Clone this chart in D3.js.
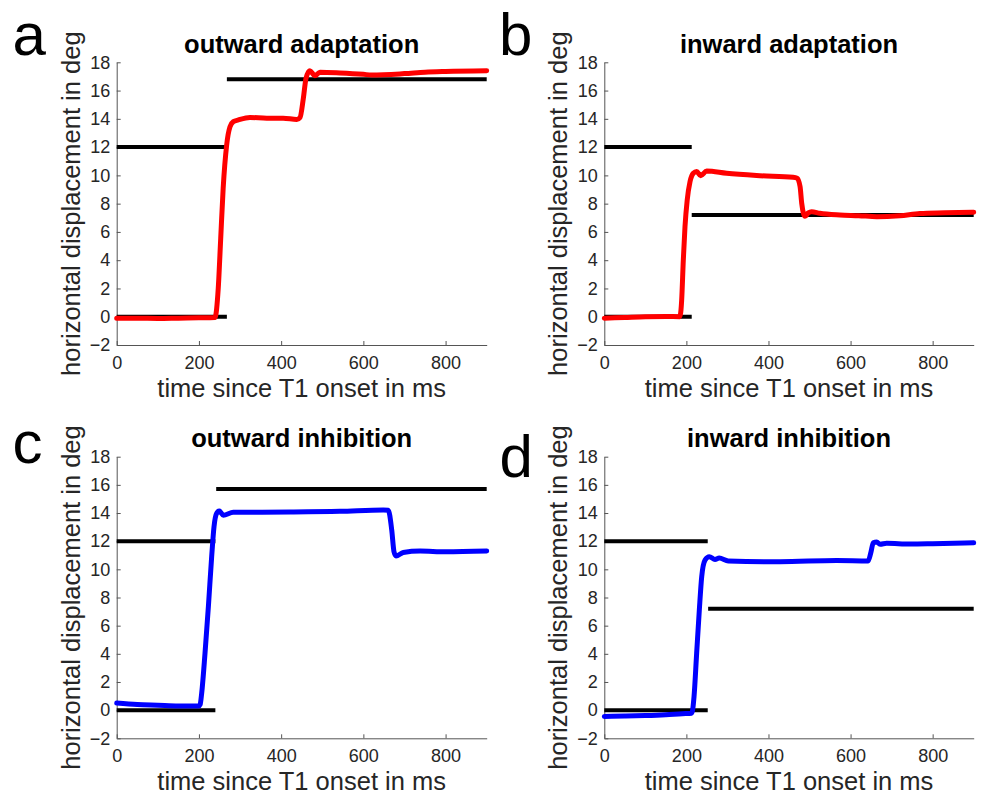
<!DOCTYPE html>
<html>
<head>
<meta charset="utf-8">
<script src="https://cdn.jsdelivr.net/npm/d3@7"></script>
<style>
  html, body { margin: 0; padding: 0; background: #fff; }
  svg { display: block; font-family: "Liberation Sans", Arial, Helvetica, sans-serif; }
</style>
</head>
<body>
<svg id="chart" width="981" height="797"></svg>
<script>
// ---------------- data ----------------
const xTicks = [0, 200, 400, 600, 800];
const yTicks = [-2, 0, 2, 4, 6, 8, 10, 12, 14, 16, 18];
const xLabel = "time since T1 onset in ms";
const yLabel = "horizontal displacement in deg";

const panelLetters = ["a", "b", "c", "d"];
const panelTitles = ["outward adaptation", "inward adaptation", "outward inhibition", "inward inhibition"];
const panelColors = ["#ff0000", "#ff0000", "#0000ff", "#0000ff"];

// panel a: outward adaptation
const timeA = [0, 50, 100, 150, 200, 239, 247, 253, 259, 267.5, 275.6, 283.7, 296, 324, 365, 405, 438, 446, 454, 460.5, 470, 482, 494.5, 543, 600, 620, 700, 750, 800, 900];
const dispA = [-0.1, -0.1, -0.12, -0.1, -0.08, -0.05, 2.0, 5.55, 9.09, 12.15, 13.44, 13.8, 13.92, 14.1, 14.05, 14.05, 13.95, 14.1, 15.45, 16.87, 17.4, 17.05, 17.3, 17.25, 17.15, 17.1, 17.2, 17.3, 17.35, 17.4];
// target segments [from ms, to ms, displacement]
const targetsA = [[0, 268, 0], [0, 268, 12], [268, 900, 16.8]];

// panel b: inward adaptation
const timeB = [0, 50, 100, 150, 184, 188.5, 192.5, 196.6, 202, 208.8, 216.9, 225, 234.8, 249.5, 298, 379, 460, 470, 477, 481, 489, 497, 505, 525, 574, 620, 664, 720, 769, 830, 900];
const dispB = [-0.1, -0.05, 0, 0.02, 0.0, 1.18, 4.01, 6.37, 8.26, 9.55, 10.15, 10.28, 9.98, 10.31, 10.15, 9.98, 9.86, 9.8, 9.2, 8.02, 7.1, 7.35, 7.43, 7.32, 7.2, 7.15, 7.08, 7.15, 7.3, 7.35, 7.4];
const targetsB = [[0, 213, 0], [0, 213, 12], [213, 900, 7.2]];

// panel c: outward inhibition
const timeC = [0, 50, 100, 150, 200, 203, 206.7, 214.8, 223, 231, 236.7, 243.2, 249.6, 259.3, 283.6, 421.6, 543, 648.5, 660.6, 669, 674.5, 679.4, 697, 738, 800, 900];
const dispC = [0.5, 0.4, 0.35, 0.3, 0.3, 0.4, 1.2, 4.04, 7.35, 10.9, 13.03, 13.98, 14.14, 13.85, 14.05, 14.07, 14.12, 14.22, 14.2, 12.79, 11.25, 10.95, 11.2, 11.3, 11.25, 11.3];
const targetsC = [[0, 240, 0], [0, 240, 12], [242, 900, 15.7]];

// panel d: inward inhibition
const timeD = [0, 50, 100, 150, 190, 213, 218.6, 225, 231.5, 237.3, 245.4, 255.8, 269.7, 280, 302, 428, 566, 643, 649, 655.5, 663.7, 671.8, 688, 745, 800, 900];
const dispD = [-0.45, -0.42, -0.38, -0.32, -0.25, -0.22, 0.95, 4.04, 7.11, 9.48, 10.66, 10.9, 10.7, 10.8, 10.6, 10.54, 10.63, 10.6, 11.14, 11.89, 11.95, 11.78, 11.85, 11.8, 11.82, 11.88];
const targetsD = [[0, 252, 0], [0, 252, 12], [253, 900, 7.2]];

const times = [timeA, timeB, timeC, timeD];
const disps = [dispA, dispB, dispC, dispD];
const targets = [targetsA, targetsB, targetsC, targetsD];

// ---------------- layout ----------------
const layouts = [
  { x0: 116.7, x1: 486.7, y0: 62.3, y1: 345, letterX: 12.5, letterY: 55, titleY: 53, xLabY: 397 },
  { x0: 604.3, x1: 973.7, y0: 62.3, y1: 345, letterX: 499, letterY: 55, titleY: 53, xLabY: 397 },
  { x0: 116.7, x1: 486.7, y0: 456.7, y1: 738.3, letterX: 12.5, letterY: 463, titleY: 446.7, xLabY: 790 },
  { x0: 604.3, x1: 973.7, y0: 456.7, y1: 738.3, letterX: 499.5, letterY: 477, titleY: 446.7, xLabY: 790 }
];

const svg = d3.select("#chart");
const axisColor = "#555";
const tickTextColor = "#262626";

layouts.forEach((L, i) => {
  const x = d3.scaleLinear().domain([0, 900]).range([L.x0, L.x1]);
  const y = d3.scaleLinear().domain([-2, 18]).range([L.y1, L.y0]);
  const g = svg.append("g");

  // axes
  const xAxis = d3.axisBottom(x).tickValues(xTicks).tickSizeInner(-4).tickSizeOuter(0).tickPadding(11);
  const yAxis = d3.axisLeft(y).tickValues(yTicks).tickSizeInner(-4).tickSizeOuter(0).tickPadding(6.5);
  const gx = g.append("g").attr("transform", `translate(0,${L.y1})`).call(xAxis);
  const gy = g.append("g").attr("transform", `translate(${L.x0},0)`).call(yAxis);
  [gx, gy].forEach(a => {
    a.select(".domain").attr("stroke", axisColor).attr("stroke-width", 1);
    a.selectAll(".tick line").attr("stroke", axisColor).attr("stroke-width", 1);
    a.selectAll(".tick text").attr("fill", tickTextColor)
      .style("font-size", "18px").style("font-family", '"Liberation Sans", Arial, sans-serif');
  });

  // target lines
  g.append("g").selectAll("line").data(targets[i]).join("line")
    .attr("x1", d => x(d[0])).attr("x2", d => x(d[1]))
    .attr("y1", d => y(d[2])).attr("y2", d => y(d[2]))
    .attr("stroke", "#000").attr("stroke-width", 4);

  // eye trace
  const pts = times[i].map((t, k) => [t, disps[i][k]]);
  const line = d3.line().x(d => x(d[0])).y(d => y(d[1])).curve(d3.curveMonotoneX);
  g.append("path").datum(pts).attr("d", line)
    .attr("fill", "none").attr("stroke", panelColors[i]).attr("stroke-width", 5)
    .attr("stroke-linejoin", "round").attr("stroke-linecap", "round");

  // title
  g.append("text").attr("x", (L.x0 + L.x1) / 2).attr("y", L.titleY)
    .attr("text-anchor", "middle").style("font-size", "25.5px").style("font-weight", "bold")
    .attr("fill", "#000").text(panelTitles[i]);

  // x label
  g.append("text").attr("x", (L.x0 + L.x1) / 2).attr("y", L.xLabY)
    .attr("text-anchor", "middle").style("font-size", "25.5px").attr("fill", "#262626").text(xLabel);

  // y label
  g.append("text").attr("transform", `translate(${L.x0 - 37},${(L.y0 + L.y1) / 2}) rotate(-90)`)
    .attr("text-anchor", "middle").style("font-size", "25.5px").attr("fill", "#262626").text(yLabel);

  // panel letter
  g.append("text").attr("x", L.letterX).attr("y", L.letterY)
    .style("font-size", "60px").attr("fill", "#000").text(panelLetters[i]);
});
</script>
</body>
</html>
